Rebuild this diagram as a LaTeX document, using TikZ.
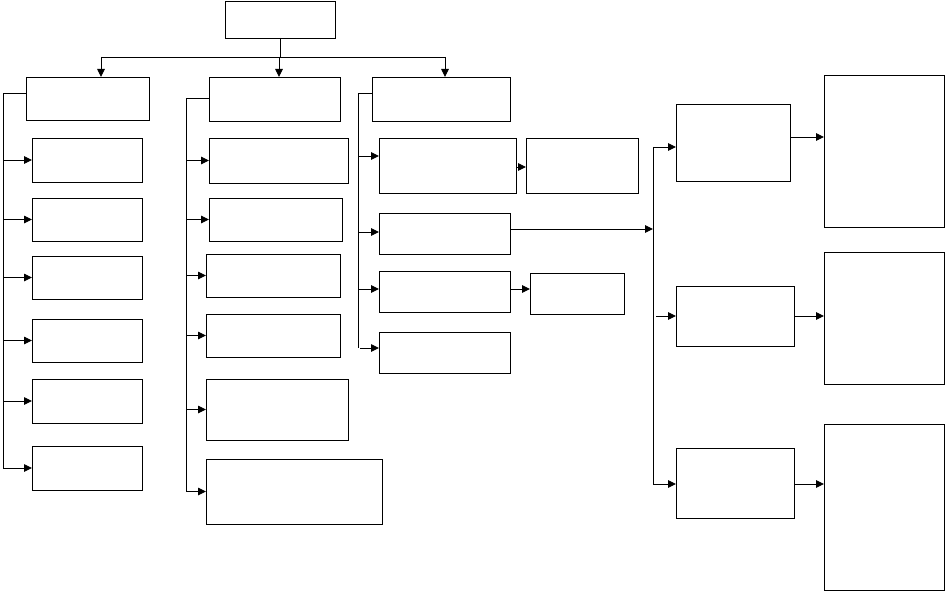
\documentclass[tikz,border=0pt]{standalone}
\usetikzlibrary{arrows.meta}
\begin{document}
\begin{tikzpicture}[x=1pt,y=-1pt,
  box/.style={draw=black,line width=0.9pt,inner sep=0pt,outer sep=0pt,fill=white},
  conn/.style={draw=black,line width=0.9pt},
  arr/.style={conn,-{Triangle[length=8pt,width=7.5pt]}}]
\useasboundingbox (0,0) rectangle (945,591);
% top
\node[box,minimum width=110pt,minimum height=37pt] (top) at (280,19.5) {};
% headers
\node[box,minimum width=123pt,minimum height=43pt] (H1) at (87.5,98.5) {};
\node[box,minimum width=131pt,minimum height=44pt] (H2) at (274.5,99) {};
\node[box,minimum width=138pt,minimum height=44pt] (H3) at (441,99) {};
% column 1
\node[box,minimum width=110pt,minimum height=44pt] (A1) at (87,160) {};
\node[box,minimum width=110pt,minimum height=43pt] (A2) at (87,219.5) {};
\node[box,minimum width=110pt,minimum height=43pt] (A3) at (87,277.5) {};
\node[box,minimum width=110pt,minimum height=43pt] (A4) at (87,340.5) {};
\node[box,minimum width=110pt,minimum height=44pt] (A5) at (87,401) {};
\node[box,minimum width=110pt,minimum height=44pt] (A6) at (87,468) {};
% column 2
\node[box,minimum width=139pt,minimum height=45pt] (B1) at (278.5,160.5) {};
\node[box,minimum width=133pt,minimum height=43pt] (B2) at (275.5,219.5) {};
\node[box,minimum width=134pt,minimum height=43pt] (B3) at (273,275.5) {};
\node[box,minimum width=134pt,minimum height=43pt] (B4) at (273,335.5) {};
\node[box,minimum width=142pt,minimum height=61pt] (B5) at (277,409.5) {};
\node[box,minimum width=176pt,minimum height=65pt] (B6) at (294,491.5) {};
% column 3
\node[box,minimum width=137pt,minimum height=55pt] (C1) at (447.5,165.5) {};
\node[box,minimum width=112pt,minimum height=55pt] (C1b) at (582,165.5) {};
\node[box,minimum width=131pt,minimum height=41pt] (C2) at (444.5,233.5) {};
\node[box,minimum width=131pt,minimum height=41pt] (C3) at (444.5,291.5) {};
\node[box,minimum width=94pt,minimum height=41pt] (C3b) at (577,293.5) {};
\node[box,minimum width=131pt,minimum height=41pt] (C4) at (444.5,352.5) {};
% right
\node[box,minimum width=114pt,minimum height=77pt] (R1) at (733,142.5) {};
\node[box,minimum width=118pt,minimum height=60pt] (R2) at (735,316) {};
\node[box,minimum width=118pt,minimum height=70pt] (R3) at (735,483) {};
\node[box,minimum width=120pt,minimum height=152pt] (F1) at (884,151) {};
\node[box,minimum width=120pt,minimum height=132pt] (F2) at (884,318) {};
\node[box,minimum width=120pt,minimum height=166pt] (F3) at (884,507) {};
% trunk coordinates
\coordinate (tj) at (280,57);
\coordinate (t1) at (3,93);
\coordinate (t1e) at (3,468);
\coordinate (t2) at (186,98);
\coordinate (t2e) at (186,491);
\coordinate (t3) at (358,93);
\coordinate (t3e) at (358,348);
\coordinate (tr) at (653,229);
\coordinate (trs) at (653,147);
\coordinate (tre) at (653,484);
% top connectors
\draw[conn] (top.south) -- (tj);
\draw[conn] (101,57) -- (445,57);
\draw[arr] (101,57) -- (H1.north -| 101,0);
\draw[arr] (279,57) -- (H2.north -| 279,0);
\draw[arr] (445,57) -- (H3.north -| 445,0);
% column 1
\draw[conn] (H1.west |- t1) -- (t1) -- (t1e);
\foreach \n in {A1,A2,A3,A4,A5,A6}{\draw[arr] (t1 |- \n.west) -- (\n.west);}
% column 2
\draw[conn] (H2.west |- t2) -- (t2) -- (t2e);
\foreach \n in {B1,B2,B3,B4,B5,B6}{\draw[arr] (t2 |- \n.west) -- (\n.west);}
% column 3
\draw[conn] (H3.west |- t3) -- (t3) -- (t3e);
\draw[arr] (t3 |- 0,156) -- (C1.west |- 0,156);
\draw[arr] (t3 |- 0,232) -- (C2.west |- 0,232);
\draw[arr] (t3 |- 0,289) -- (C3.west |- 0,289);
\draw[arr] ([xshift=2pt]t3e) -- (C4.west |- t3e);
\draw[arr] (C1.east |- 0,167) -- (C1b.west |- 0,167);
\draw[arr] (C3.east |- 0,289) -- (C3b.west |- 0,289);
\draw[arr] (C2.east |- tr) -- (tr);
% right trunk
\draw[conn] (trs) -- (tre);
\draw[arr] (trs) -- (R1.west |- trs);
\draw[arr] ([xshift=3pt]tr |- R2.west) -- (R2.west);
\draw[arr] (tre) -- (R3.west |- tre);
\draw[arr] (R1.east |- 0,137) -- (F1.west |- 0,137);
\draw[arr] (R2.east) -- (F2.west |- R2.east);
\draw[arr] (R3.east |- tre) -- (F3.west |- tre);
\end{tikzpicture}
\end{document}
